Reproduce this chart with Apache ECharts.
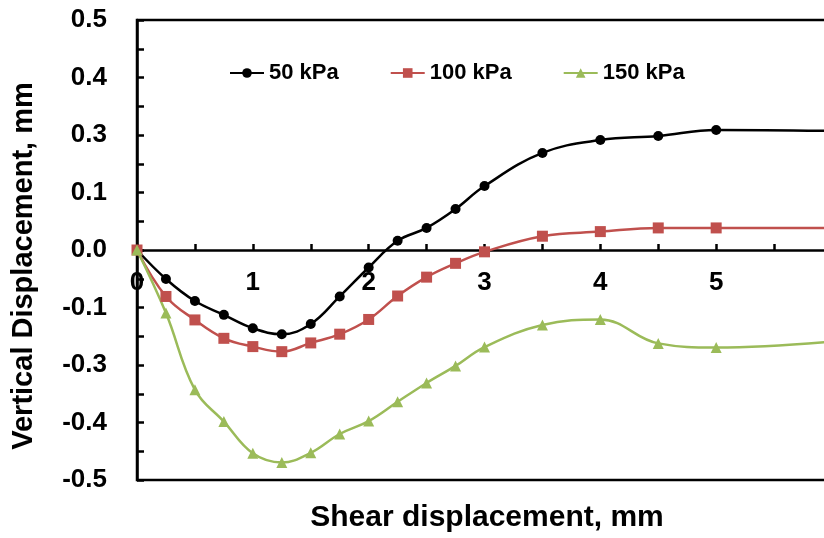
<!DOCTYPE html>
<html>
<head>
<meta charset="utf-8">
<script src="https://cdn.jsdelivr.net/npm/echarts@6/dist/echarts.min.js"></script>
<style>
html,body{margin:0;padding:0;background:#fff;}
#chart{width:824px;height:538px;}
</style>
</head>
<body>
<div id="chart"></div>
<script>
var xValues = [0, 0.25, 0.5, 0.75, 1.0, 1.25, 1.5, 1.75, 2.0, 2.25, 2.5, 2.75, 3.0, 3.5, 4.0, 4.5, 5.0, 6.0];
var kPa50  = [0, -0.063, -0.111, -0.141, -0.170, -0.183, -0.161, -0.101, -0.038, 0.020, 0.048, 0.089, 0.139, 0.211, 0.239, 0.248, 0.261, 0.259];
var kPa100 = [0, -0.101, -0.152, -0.192, -0.210, -0.221, -0.202, -0.183, -0.151, -0.100, -0.059, -0.029, -0.004, 0.030, 0.040, 0.048, 0.048, 0.048];
var kPa150 = [0, -0.137, -0.304, -0.373, -0.442, -0.462, -0.441, -0.400, -0.372, -0.330, -0.289, -0.252, -0.211, -0.163, -0.151, -0.203, -0.212, -0.199];
var seriesNames = ['50 kPa', '100 kPa', '150 kPa'];
var xTickLabels = ['0', '1', '2', '3', '4', '5', '6'];
var yTickLabels = ['-0.5', '-0.4', '-0.3', '-0.1', '0.0', '0.1', '0.3', '0.4', '0.5'];
var xTitle = 'Shear displacement, mm';
var yTitle = 'Vertical Displacement, mm';

var FONT = '"Liberation Sans", Arial, sans-serif';
function pairs(ys) { return xValues.map(function (x, i) { return [x, ys[i]]; }); }

var chart = echarts.init(document.getElementById('chart'));
var lineW = 2.5;
function mkSeries(name, ys, color, symbol, size) {
  return {
    name: name, type: 'line', data: pairs(ys), smooth: 0.4,
    symbol: symbol, symbolSize: size, showAllSymbol: true,
    itemStyle: { color: color },
    lineStyle: { color: color, width: lineW },
    emphasis: { disabled: true },
    z: 3
  };
}
chart.setOption({
  animation: false,
  backgroundColor: '#fff',
  textStyle: { fontFamily: FONT },
  grid: {
    left: 137, top: 20, width: 695, height: 460,
    outerBoundsMode: 'none', containLabel: false,
    show: true, borderColor: '#000', borderWidth: 2.5, backgroundColor: 'transparent'
  },
  legend: {
    left: 229, top: 62, padding: 0,
    itemWidth: 34, itemHeight: 12, itemGap: 51,
    textStyle: { fontFamily: FONT, fontSize: 22, fontWeight: 'bold', color: '#000' },
    data: seriesNames
  },
  xAxis: {
    type: 'value', min: 0, max: 6, interval: 0.5,
    position: 'bottom', offset: -230,
    axisLine: { onZero: false, lineStyle: { color: '#000', width: 2.5 } },
    axisTick: { inside: true, length: 6, lineStyle: { color: '#000', width: 2.5 } },
    splitLine: { show: false },
    axisLabel: {
      margin: 20, color: '#000', fontSize: 26, fontWeight: 'bold', fontFamily: FONT,
      formatter: function (v) {
        var r = Math.round(v);
        return Math.abs(v - r) < 1e-9 ? xTickLabels[r] : '';
      }
    }
  },
  yAxis: {
    type: 'value', min: -0.5, max: 0.5, interval: 0.0625,
    axisLine: { show: true, onZero: false, lineStyle: { color: '#000', width: 2.5 } },
    axisTick: { inside: true, length: 7, lineStyle: { color: '#000', width: 2.5 } },
    splitLine: { show: false },
    axisLabel: {
      margin: 30, color: '#000', fontSize: 26, fontWeight: 'bold', fontFamily: FONT,
      formatter: function (v) {
        var k = Math.round((v + 0.5) / 0.0625);
        return k % 2 === 0 ? yTickLabels[k / 2] : '';
      }
    }
  },
  graphic: [
    { type: 'text', x: 487, y: 518,
      style: { text: xTitle, fontSize: 30, fontWeight: 'bold', fontFamily: FONT, fill: '#000', align: 'center', verticalAlign: 'middle' } },
    { type: 'text', x: 24, y: 266, rotation: Math.PI / 2,
      style: { text: yTitle, fontSize: 29, fontWeight: 'bold', fontFamily: FONT, fill: '#000', align: 'center', verticalAlign: 'middle' } }
  ],
  series: [
    mkSeries(seriesNames[0], kPa50, '#000000', 'circle', 10),
    mkSeries(seriesNames[1], kPa100, '#C0504D', 'rect', 11),
    mkSeries(seriesNames[2], kPa150, '#9BBB59', 'triangle', 11)
  ]
});
</script>
</body>
</html>
